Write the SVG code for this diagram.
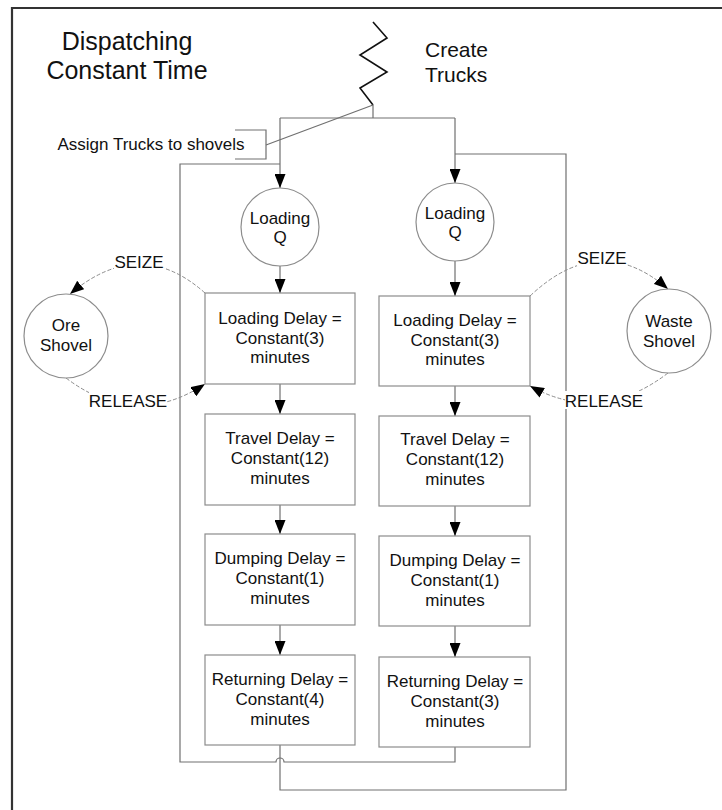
<svg xmlns="http://www.w3.org/2000/svg" width="722" height="810" viewBox="0 0 722 810">
<defs>
<style>
text{font-family:"Liberation Sans",Arial,sans-serif;fill:#111;text-anchor:middle}
.t17{font-size:17px}
.title{font-size:25px}
.ct{font-size:21px;text-anchor:start}
.box{fill:#fff;stroke:#8c8c8c;stroke-width:1.2}
.circ{fill:#fff;stroke:#8c8c8c;stroke-width:1.2}
.ln{fill:none;stroke:#707070;stroke-width:1.2}
.dash{fill:none;stroke:#8c8c8c;stroke-width:1;stroke-dasharray:4 2}
.bg{fill:#fff}
</style>
<marker id="ah" markerUnits="userSpaceOnUse" markerWidth="14" markerHeight="11" refX="14" refY="5.5" orient="auto">
<path d="M0,0 L14,5.5 L0,11 Z" fill="#000"/>
</marker>
</defs>
<rect width="722" height="810" fill="#fff"/>
<g id="frame">
<path d="M12,810 V8 H722" fill="none" stroke="#333" stroke-width="2.2"/>
</g>
<g id="title">
<text class="title" x="127" y="50">Dispatching</text>
<text class="title" x="127" y="79">Constant Time</text>
</g>
<g id="create-trucks">
<path d="M373,22 L387,38 L360,55 L387,72 L360,88 L373,105" fill="none" stroke="#111" stroke-width="1.6"/>
<text class="ct" x="425" y="57">Create</text>
<text class="ct" x="425" y="82">Trucks</text>
</g>
<g id="assign-note">
<text class="t17" x="151" y="150">Assign Trucks to shovels</text>
<path class="ln" d="M235,130 H266 V159 H235"/>
<path class="ln" d="M266,145 L373,105"/>
</g>
<g id="connectors">
<path class="ln" d="M373,105 V118"/>
<path class="ln" d="M280,118 H455"/>
<path class="ln" d="M280,118 V188" marker-end="url(#ah)"/>
<path class="ln" d="M455,118 V183" marker-end="url(#ah)"/>
<path class="ln" d="M280,266 V293" marker-end="url(#ah)"/>
<path class="ln" d="M455,261 V296" marker-end="url(#ah)"/>
<path class="ln" d="M280,384 V414" marker-end="url(#ah)"/>
<path class="ln" d="M280,505 V534" marker-end="url(#ah)"/>
<path class="ln" d="M280,625 V655" marker-end="url(#ah)"/>
<path class="ln" d="M455,386 V416" marker-end="url(#ah)"/>
<path class="ln" d="M455,506 V536" marker-end="url(#ah)"/>
<path class="ln" d="M455,626 V657" marker-end="url(#ah)"/>
<path class="ln" d="M455,747 V762 H284 A4,4 0 0 0 276,762 H180 V164 H280"/>
<path class="ln" d="M280,745 V790 H566 V154 H455"/>
<path class="dash" d="M205,293 Q140,235 70,294" marker-end="url(#ah)"/>
<path class="dash" d="M66,378 Q135,430 205,384" marker-end="url(#ah)"/>
<path class="dash" d="M530,296 Q600,230 668,289" marker-end="url(#ah)"/>
<path class="dash" d="M668,373 Q600,425 530,386" marker-end="url(#ah)"/>
<rect class="bg" x="114" y="252" width="50" height="18"/>
<text class="t17" x="139" y="268">SEIZE</text>
<rect class="bg" x="89" y="391" width="78" height="18"/>
<text class="t17" x="128" y="407">RELEASE</text>
<rect class="bg" x="577" y="248" width="50" height="18"/>
<text class="t17" x="602" y="264">SEIZE</text>
<rect class="bg" x="565" y="391" width="78" height="18"/>
<text class="t17" x="604" y="407">RELEASE</text>
</g>
<g id="loading-q-left">
<circle class="circ" cx="280" cy="227" r="39"/>
<text class="t17" x="280" y="224">Loading</text>
<text class="t17" x="280" y="243">Q</text>
</g>
<g id="loading-q-right">
<circle class="circ" cx="455" cy="222" r="39"/>
<text class="t17" x="455" y="219">Loading</text>
<text class="t17" x="455" y="238">Q</text>
</g>
<g id="ore-shovel">
<circle class="circ" cx="66" cy="336" r="42"/>
<text class="t17" x="66" y="331">Ore</text>
<text class="t17" x="66" y="351">Shovel</text>
</g>
<g id="waste-shovel">
<circle class="circ" cx="669" cy="331" r="42"/>
<text class="t17" x="669" y="327">Waste</text>
<text class="t17" x="669" y="347">Shovel</text>
</g>
<g id="left-loading">
<rect class="box" x="205" y="293" width="150" height="91"/>
<text class="t17" x="280" y="324">Loading Delay =</text>
<text class="t17" x="280" y="344">Constant(3)</text>
<text class="t17" x="280" y="363">minutes</text>
</g>
<g id="left-travel">
<rect class="box" x="205" y="414" width="150" height="91"/>
<text class="t17" x="280" y="444">Travel Delay =</text>
<text class="t17" x="280" y="464">Constant(12)</text>
<text class="t17" x="280" y="484">minutes</text>
</g>
<g id="left-dumping">
<rect class="box" x="205" y="534" width="150" height="91"/>
<text class="t17" x="280" y="564">Dumping Delay =</text>
<text class="t17" x="280" y="584">Constant(1)</text>
<text class="t17" x="280" y="604">minutes</text>
</g>
<g id="left-returning">
<rect class="box" x="205" y="655" width="150" height="90"/>
<text class="t17" x="280" y="685">Returning Delay =</text>
<text class="t17" x="280" y="705">Constant(4)</text>
<text class="t17" x="280" y="725">minutes</text>
</g>
<g id="right-loading">
<rect class="box" x="379" y="296" width="151" height="90"/>
<text class="t17" x="455" y="326">Loading Delay =</text>
<text class="t17" x="455" y="346">Constant(3)</text>
<text class="t17" x="455" y="365">minutes</text>
</g>
<g id="right-travel">
<rect class="box" x="379" y="416" width="151" height="90"/>
<text class="t17" x="455" y="445">Travel Delay =</text>
<text class="t17" x="455" y="465">Constant(12)</text>
<text class="t17" x="455" y="485">minutes</text>
</g>
<g id="right-dumping">
<rect class="box" x="379" y="536" width="151" height="90"/>
<text class="t17" x="455" y="566">Dumping Delay =</text>
<text class="t17" x="455" y="586">Constant(1)</text>
<text class="t17" x="455" y="606">minutes</text>
</g>
<g id="right-returning">
<rect class="box" x="379" y="657" width="151" height="90"/>
<text class="t17" x="455" y="687">Returning Delay =</text>
<text class="t17" x="455" y="707">Constant(3)</text>
<text class="t17" x="455" y="727">minutes</text>
</g>
</svg>
